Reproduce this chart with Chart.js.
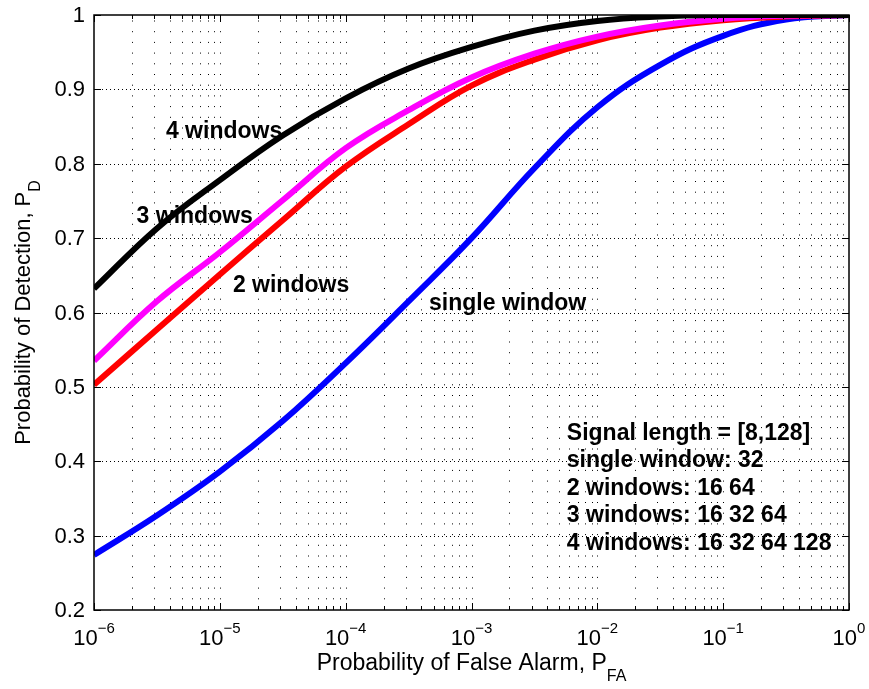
<!DOCTYPE html>
<html>
<head>
<meta charset="utf-8">
<script src="https://cdn.jsdelivr.net/npm/chart.js@4.4.1/dist/chart.umd.min.js"></script>
<style>
    html, body { margin: 0; padding: 0; background: #fff; }
    #wrap { width: 869px; height: 689px; }
</style>
</head>
<body>
<div id="wrap"><canvas id="rocChart" width="869" height="689"></canvas></div>
<script>
// Probability of false alarm (x), half-decade steps
const pfaValues = [1e-6, 3.16e-6, 1e-5, 3.16e-5, 1e-4, 3.16e-4, 1e-3, 3.16e-3, 1e-2, 3.16e-2, 1e-1, 3.16e-1, 1];

// Probability of detection for each window setup
const pdFourWindows   = [0.632, 0.713, 0.778, 0.838, 0.888, 0.928, 0.957, 0.979, 0.992, 0.998, 1.0, 1.0, 1.0];
const pdThreeWindows  = [0.535, 0.615, 0.681, 0.751, 0.821, 0.872, 0.916, 0.948, 0.971, 0.986, 0.995, 0.999, 1.0];
const pdTwoWindows    = [0.503, 0.577, 0.651, 0.724, 0.796, 0.853, 0.905, 0.940, 0.966, 0.983, 0.993, 0.998, 1.0];
const pdSingleWindow  = [0.274, 0.327, 0.386, 0.454, 0.532, 0.615, 0.700, 0.794, 0.876, 0.933, 0.972, 0.994, 1.0];

const seriesNames = ['4 windows', '3 windows', '2 windows', 'single window'];
const seriesColors = ['#000000', '#ff00ff', '#ff0000', '#0000ff'];

// Axis ticks
const xDecades = [-6, -5, -4, -3, -2, -1, 0];
const yTicks = [0.2, 0.3, 0.4, 0.5, 0.6, 0.7, 0.8, 0.9, 1];
const yTickLabels = ['0.2', '0.3', '0.4', '0.5', '0.6', '0.7', '0.8', '0.9', '1'];

const noteLines = [
    'Signal length = [8,128]',
    'single window: 32',
    '2 windows: 16 64',
    '3 windows: 16 32 64',
    '4 windows: 16 32 64 128'
];

const FONT = 'Liberation Sans, Arial, Helvetica, sans-serif';

function toPoints(ys) {
    return pfaValues.map((x, i) => ({ x: x, y: ys[i] }));
}

// all 1..9 x 10^n positions for the minor grid
function minorXValues() {
    const vals = [];
    for (let d = xDecades[0]; d < xDecades[xDecades.length - 1]; d++) {
        for (let m = 1; m <= 9; m++) vals.push(m * Math.pow(10, d));
    }
    vals.push(1);
    return vals;
}

function line(ctx, x1, y1, x2, y2) {
    ctx.beginPath();
    ctx.moveTo(x1, y1);
    ctx.lineTo(x2, y2);
    ctx.stroke();
}

// text with a sub- or superscript part
function drawScripted(ctx, main, extra, x, y, size, extraSize, shift, align) {
    ctx.font = size + 'px ' + FONT;
    const w1 = ctx.measureText(main).width;
    ctx.font = extraSize + 'px ' + FONT;
    const w2 = ctx.measureText(extra).width;
    let start = x;
    if (align === 'center') start = x - (w1 + w2) / 2;
    ctx.textAlign = 'left';
    ctx.textBaseline = 'alphabetic';
    ctx.font = size + 'px ' + FONT;
    ctx.fillText(main, start, y);
    ctx.font = extraSize + 'px ' + FONT;
    ctx.fillText(extra, start + w1, y + shift);
}

const matlabAxes = {
    id: 'matlabAxes',
    beforeDatasetsDraw(chart) {
        const { ctx, chartArea: a, scales: { x, y } } = chart;
        ctx.save();
        ctx.strokeStyle = '#000';
        ctx.lineWidth = 1;
        // vertical dotted grid (major + minor)
        ctx.setLineDash([1, 9.7]);
        minorXValues().forEach(v => {
            const px = Math.round(x.getPixelForValue(v)) + 0.5;
            if (px <= a.left + 1 || px >= a.right - 1) return;
            line(ctx, px, a.bottom, px, a.top);
        });
        // horizontal dotted grid
        ctx.setLineDash([1, 3]);
        yTicks.forEach(v => {
            const py = Math.round(y.getPixelForValue(v)) + 0.5;
            if (py <= a.top + 1 || py >= a.bottom - 1) return;
            line(ctx, a.left, py, a.right, py);
        });
        ctx.restore();
    },
    afterDatasetsDraw(chart) {
        const { ctx, chartArea: a, scales: { x, y } } = chart;
        ctx.save();
        ctx.fillStyle = '#000';
        ctx.strokeStyle = '#000';

        // ticks pointing inward
        ctx.lineWidth = 1;
        minorXValues().forEach(v => {
            const px = Math.round(x.getPixelForValue(v)) + 0.5;
            const major = Math.abs(Math.log10(v) - Math.round(Math.log10(v))) < 1e-9;
            const len = major ? 7 : 4;
            line(ctx, px, a.bottom, px, a.bottom - len);
            line(ctx, px, a.top, px, a.top + len);
        });
        yTicks.forEach(v => {
            const py = Math.round(y.getPixelForValue(v)) + 0.5;
            line(ctx, a.left, py, a.left + 7, py);
            line(ctx, a.right, py, a.right - 7, py);
        });

        // box
        ctx.lineWidth = 1.5;
        ctx.strokeRect(a.left, a.top, a.right - a.left, a.bottom - a.top);

        // y tick labels
        ctx.font = '22px ' + FONT;
        ctx.textAlign = 'right';
        ctx.textBaseline = 'middle';
        yTicks.forEach((v, i) => {
            ctx.fillText(yTickLabels[i], a.left - 9, y.getPixelForValue(v) + 1);
        });

        // x tick labels 10^n
        xDecades.forEach(d => {
            const px = x.getPixelForValue(Math.pow(10, d));
            const exp = d < 0 ? '\u2212' + Math.abs(d) : String(d);
            drawScripted(ctx, '10', exp, px, a.bottom + 35, 22, 15, -12, 'center');
        });

        // axis titles
        drawScripted(ctx, 'Probability of False Alarm, P', 'FA', (a.left + a.right) / 2, a.bottom + 60, 23, 16, 11, 'center');
        ctx.save();
        ctx.translate(30, (a.top + a.bottom) / 2);
        ctx.rotate(-Math.PI / 2);
        drawScripted(ctx, 'Probability of Detection, P', 'D', 0, 0, 22, 16, 10, 'center');
        ctx.restore();

        // curve labels
        ctx.font = 'bold 23px ' + FONT;
        ctx.textAlign = 'left';
        ctx.textBaseline = 'alphabetic';
        ctx.fillText(seriesNames[0], x.getPixelForValue(3.73e-6), y.getPixelForValue(0.835));
        ctx.fillText(seriesNames[1], x.getPixelForValue(2.18e-6), y.getPixelForValue(0.720));
        ctx.fillText(seriesNames[2], x.getPixelForValue(1.27e-5), y.getPixelForValue(0.628));
        ctx.fillText(seriesNames[3], x.getPixelForValue(4.6e-4), y.getPixelForValue(0.604));

        // note block
        const nx = x.getPixelForValue(5.72e-3);
        const ny = y.getPixelForValue(0.429);
        noteLines.forEach((t, i) => ctx.fillText(t, nx, ny + i * 27.5));

        ctx.restore();
    }
};

function initializeRocChart() {
    const ctx = document.getElementById('rocChart').getContext('2d');
    const pdSets = [pdFourWindows, pdThreeWindows, pdTwoWindows, pdSingleWindow];
    return new Chart(ctx, {
        type: 'line',
        data: {
            datasets: pdSets.map((ys, i) => ({
                label: seriesNames[i],
                data: toPoints(ys),
                borderColor: seriesColors[i],
                backgroundColor: seriesColors[i],
                borderWidth: 6,
                borderJoinStyle: 'round',
                pointRadius: 0,
                fill: false,
                tension: 0.4,
                clip: 0
            }))
        },
        options: {
            responsive: false,
            animation: false,
            devicePixelRatio: 1,
            layout: {
                padding: { left: 94, right: 20, top: 15, bottom: 79 }
            },
            plugins: {
                legend: { display: false },
                tooltip: { enabled: false }
            },
            scales: {
                x: {
                    type: 'logarithmic',
                    min: 1e-6,
                    max: 1,
                    display: false
                },
                y: {
                    type: 'linear',
                    min: 0.2,
                    max: 1,
                    display: false
                }
            }
        },
        plugins: [matlabAxes]
    });
}

document.addEventListener('DOMContentLoaded', function() {
    initializeRocChart();
});
</script>
</body>
</html>
